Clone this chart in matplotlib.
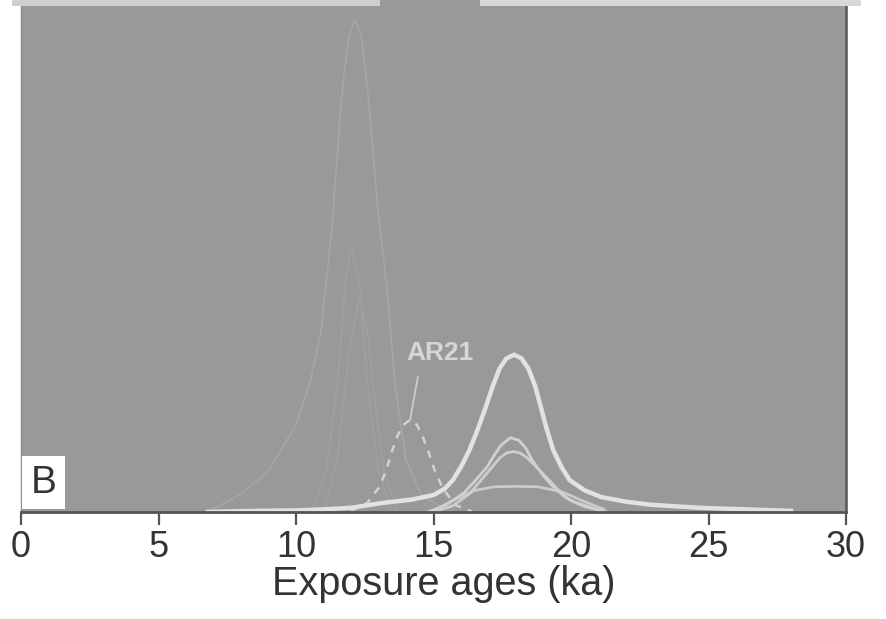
import numpy as np
import matplotlib.pyplot as plt
from matplotlib.patches import Rectangle

# Summed probability curve of all samples (main, thick)
sum_ages = [6.8, 8.5, 10.0, 11.0, 12.0, 13.2, 14.2, 15.0, 15.4, 15.7, 16.0, 16.3, 16.6,
            16.9, 17.15, 17.4, 17.65, 17.93, 18.2, 18.45, 18.7, 18.9, 19.1, 19.35,
            19.65, 19.95, 20.5, 21.1, 22.0, 22.9, 24.7, 28.0]
sum_prob = [0.0, 0.002, 0.003, 0.005, 0.008, 0.018, 0.024, 0.033, 0.045, 0.062, 0.088,
            0.12, 0.16, 0.205, 0.245, 0.28, 0.3, 0.307, 0.3, 0.28, 0.245, 0.205,
            0.165, 0.121, 0.088, 0.062, 0.042, 0.029, 0.02, 0.014, 0.008, 0.002]

# Individual sample curves around 18 ka
s1_ages = [14.8, 15.5, 16.1, 16.5, 16.95, 17.2, 17.45, 17.8, 18.1, 18.35, 18.6,
           19.0, 19.35, 19.8, 20.2, 21.0]
s1_prob = [0.0, 0.015, 0.037, 0.06, 0.088, 0.11, 0.13, 0.145, 0.14, 0.125, 0.10,
           0.07, 0.049, 0.028, 0.018, 0.004]

s2_ages = [15.0, 15.7, 16.3, 16.95, 17.4, 17.65, 17.9, 18.15, 18.4, 18.7, 19.1,
           19.5, 19.96, 20.5, 21.3]
s2_prob = [0.0, 0.012, 0.035, 0.076, 0.105, 0.115, 0.118, 0.115, 0.106, 0.09, 0.068,
           0.045, 0.023, 0.01, 0.0]

s3_ages = [15.0, 15.4, 15.8, 16.5, 17.2, 18.0, 18.8, 19.6, 20.0, 20.4, 21.2]
s3_prob = [0.0, 0.014, 0.025, 0.042, 0.049, 0.05, 0.049, 0.04, 0.032, 0.022, 0.005]

# AR21 (dashed)
ar21_ages = [12.0, 12.6, 13.05, 13.3, 13.5, 13.7, 13.9, 14.15, 14.4, 14.6, 14.8,
             15.05, 15.35, 15.8, 16.4]
ar21_prob = [0.002, 0.018, 0.05, 0.085, 0.12, 0.15, 0.17, 0.18, 0.17, 0.148, 0.12,
             0.08, 0.045, 0.013, 0.001]

# Faint curves of the young group
young_ages = [6.8, 8.0, 9.0, 10.0, 10.5, 10.9, 11.1, 11.3, 11.45, 11.6, 11.75, 11.9,
              12.05, 12.15, 12.25, 12.4, 12.55, 12.7, 12.85, 13.0, 13.3, 13.6, 14.0,
              14.6, 15.5]
young_prob = [0.0, 0.035, 0.08, 0.17, 0.25, 0.35, 0.45, 0.55, 0.66, 0.77, 0.86, 0.92,
              0.95, 0.96, 0.95, 0.92, 0.85, 0.77, 0.67, 0.58, 0.44, 0.25, 0.10,
              0.03, 0.005]
y1_ages = [10.6, 11.1, 11.5, 11.8, 12.0, 12.3, 12.6, 13.0, 13.5]
y1_prob = [0.0, 0.08, 0.25, 0.45, 0.52, 0.45, 0.25, 0.08, 0.0]
y2_ages = [11.0, 11.5, 11.9, 12.3, 12.6, 12.9, 13.2, 13.7]
y2_prob = [0.0, 0.1, 0.3, 0.42, 0.35, 0.2, 0.08, 0.0]

ticks = [0, 5, 10, 15, 20, 25, 30]

plt.rcParams['font.family'] = ['Liberation Sans', 'DejaVu Sans']

fig = plt.figure(figsize=(8.86, 6.19), dpi=100)
ax = fig.add_axes([0.0237, 0.173, 0.9312, 0.827])
ax.set_facecolor('#999999')

ax.plot(young_ages, young_prob, color='#a5a5a5', lw=1.3)
ax.plot(y1_ages, y1_prob, color='#a1a1a1', lw=1.0)
ax.plot(y2_ages, y2_prob, color='#a1a1a1', lw=1.0)

ax.plot(ar21_ages, ar21_prob, color='#d2d2d2', lw=1.8, ls=(0, (3, 3)))
ax.plot(s3_ages, s3_prob, color='#cacaca', lw=2)
ax.plot(s2_ages, s2_prob, color='#cdcdcd', lw=2)
ax.plot(s1_ages, s1_prob, color='#d0d0d0', lw=2)
ax.plot(sum_ages, sum_prob, color='#e2e2e2', lw=3.2)

# AR21 label with leader line
ax.text(15.24, 0.31, 'AR21', color='#d6d6d6', fontsize=19, fontweight='bold',
        ha='center', va='center')
ax.plot([14.43, 14.15], [0.264, 0.18], color='#cfcfcf', lw=1.2)

# panel letter
ax.text(0.012, 0.022, 'B', transform=ax.transAxes, fontsize=28, color='#333333',
        ha='left', va='bottom',
        bbox=dict(boxstyle='square,pad=0.22', fc='white', ec='none'))

ax.set_xlim(0, 30)
ax.set_ylim(0, 1)
ax.set_yticks([])
ax.set_xticks(ticks)
ax.tick_params(axis='x', direction='out', length=9, width=1.6, color='#555555',
               labelsize=26, labelcolor='#333333', pad=4)
ax.set_xlabel('Exposure ages (ka)', fontsize=28.5, color='#333333', labelpad=0, x=0.513)

ax.spines['top'].set_visible(False)
ax.spines['left'].set_color('#8c8c8c')
ax.spines['left'].set_linewidth(1)
ax.spines['right'].set_color('#555555')
ax.spines['right'].set_linewidth(1.8)
ax.spines['bottom'].set_color('#555555')
ax.spines['bottom'].set_linewidth(2)

# light strip of the legend box cut off at the top
fig.patches.append(Rectangle((0.014, 0.99), 0.415, 0.01, transform=fig.transFigure,
                             fc='#cfcfcf', ec='none'))
fig.patches.append(Rectangle((0.542, 0.99), 0.43, 0.01, transform=fig.transFigure,
                             fc='#d8d8d8', ec='none'))

fig.savefig('out.png', dpi=100, facecolor='white')
